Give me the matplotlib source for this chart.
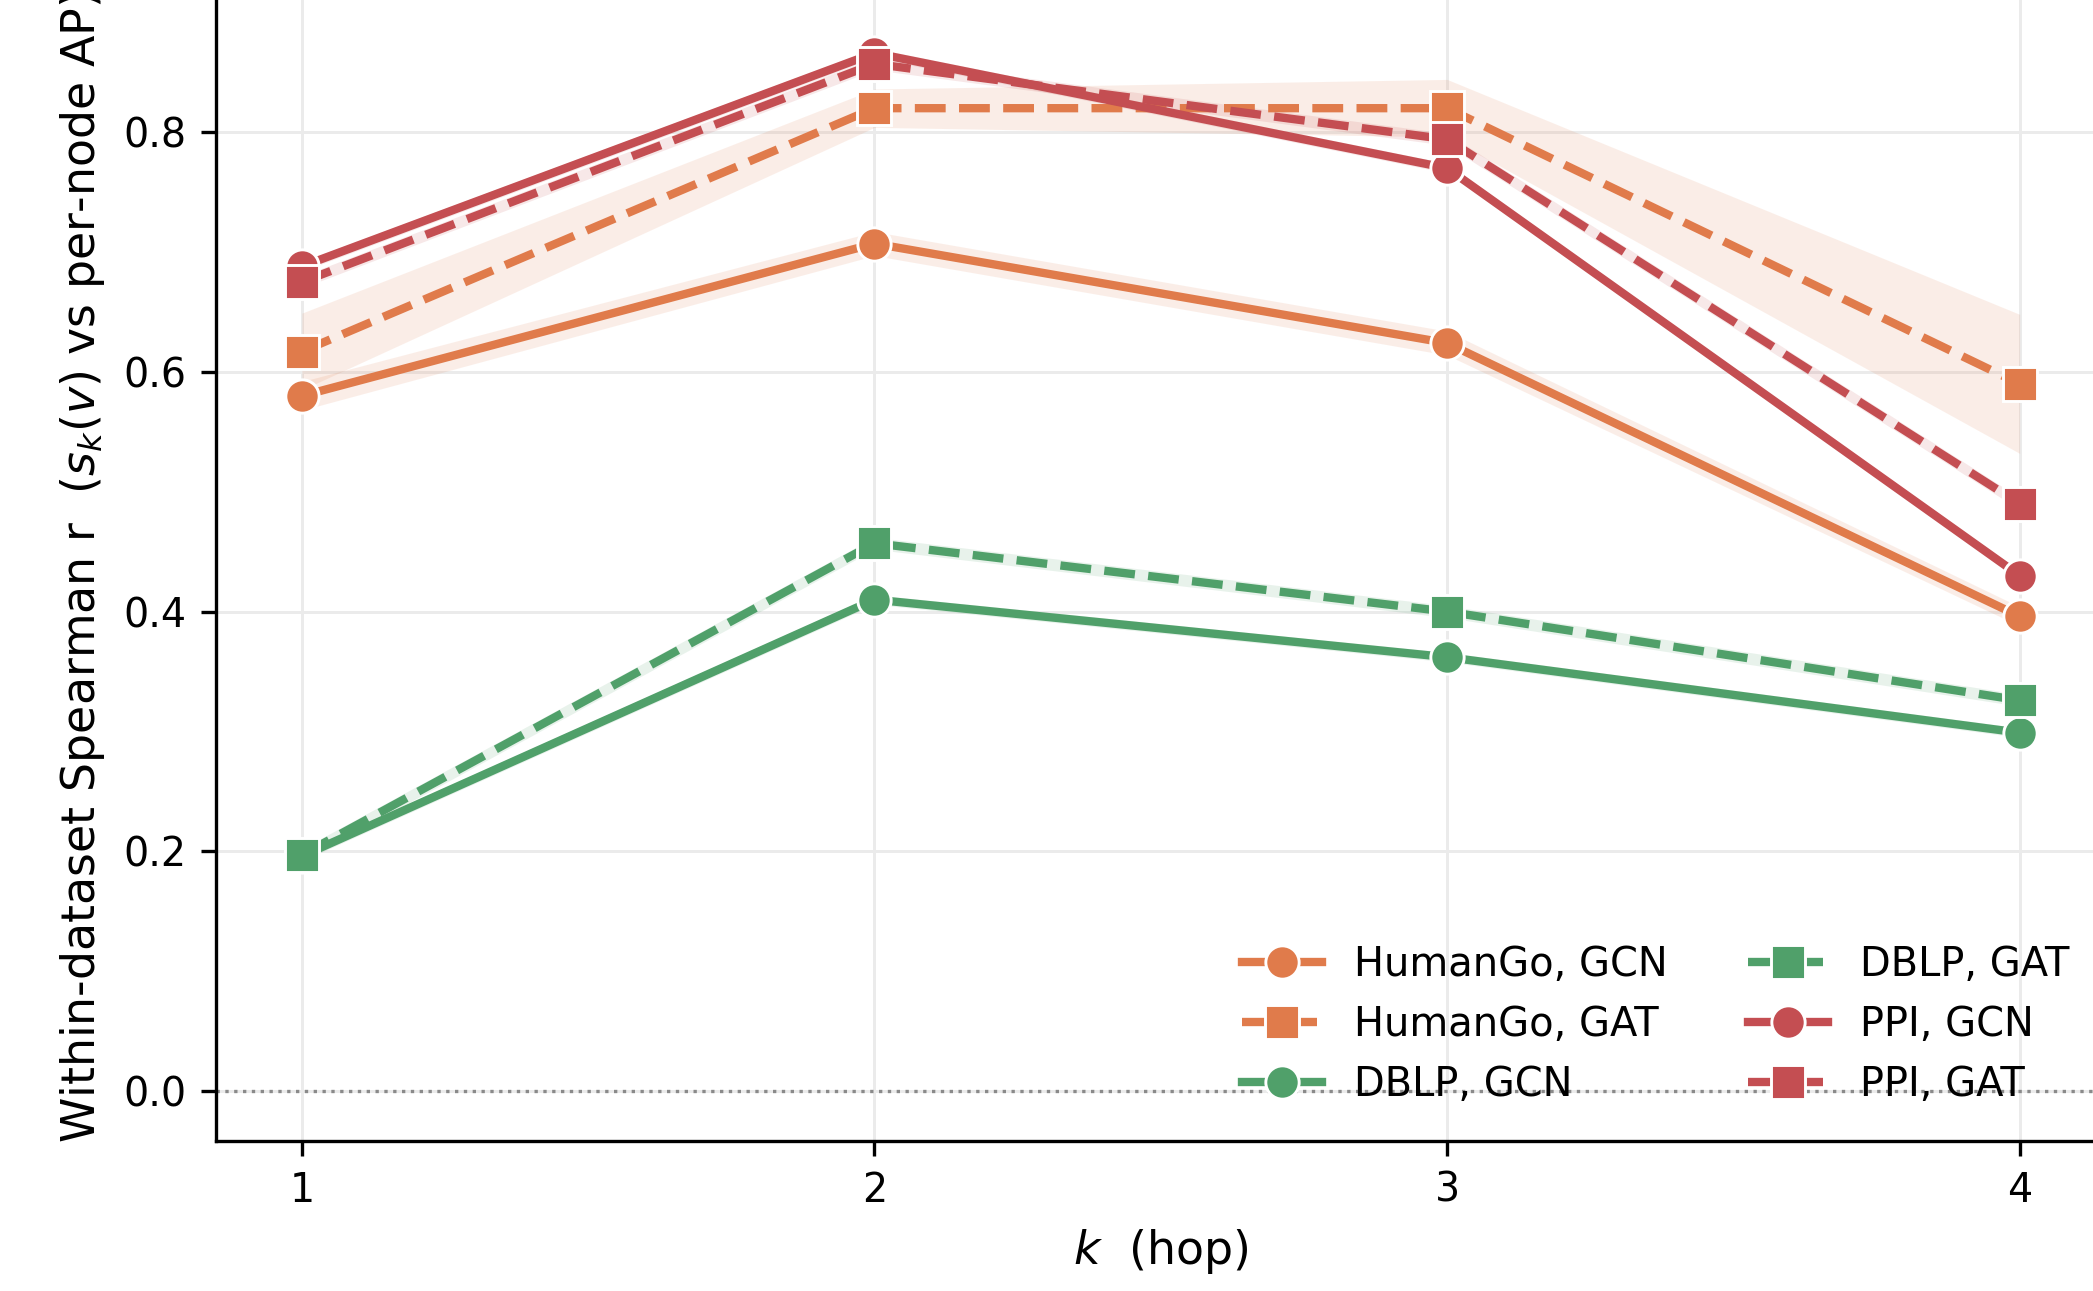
import matplotlib
matplotlib.use("Agg")
import matplotlib.pyplot as plt
import numpy as np

# hops
k = [1, 2, 3, 4]

# mean within-dataset Spearman r per (dataset, model)
humango_gcn = [0.580, 0.707, 0.624, 0.396]
humango_gat = [0.617, 0.820, 0.820, 0.590]
dblp_gcn = [0.196, 0.410, 0.362, 0.299]
dblp_gat = [0.197, 0.457, 0.400, 0.326]
ppi_gcn = [0.688, 0.866, 0.770, 0.430]
ppi_gat = [0.675, 0.857, 0.794, 0.490]

# spread across seeds (shaded band)
humango_gcn_sd = [0.012, 0.010, 0.010, 0.008]
humango_gat_sd = [0.032, 0.016, 0.024, 0.058]
dblp_gcn_sd = [0.004, 0.004, 0.004, 0.004]
dblp_gat_sd = [0.005, 0.005, 0.005, 0.005]
ppi_gcn_sd = [0.004, 0.004, 0.004, 0.004]
ppi_gat_sd = [0.005, 0.005, 0.005, 0.005]

labels = ["HumanGo, GCN", "HumanGo, GAT", "DBLP, GCN", "DBLP, GAT", "PPI, GCN", "PPI, GAT"]
means = [humango_gcn, humango_gat, dblp_gcn, dblp_gat, ppi_gcn, ppi_gat]
sds = [humango_gcn_sd, humango_gat_sd, dblp_gcn_sd, dblp_gat_sd, ppi_gcn_sd, ppi_gat_sd]

orange, green, red = "#E07B4B", "#50A06A", "#C44E52"
colors = [orange, orange, green, green, red, red]
styles = ["-", "--"] * 3
markers = ["o", "s"] * 3

fig = plt.figure(figsize=(2093 / 300, 1291 / 300), dpi=300)
ax = fig.add_axes([0.1032, 0.1159, 0.9028, 0.8885])

ax.axhline(0, color="gray", lw=0.8, ls=":", alpha=0.9, zorder=1)

for lab, m, s, c, ls, mk in zip(labels, means, sds, colors, styles, markers):
    m = np.array(m)
    s = np.array(s)
    ax.fill_between(k, m - s, m + s, color=c, alpha=0.13, lw=0, zorder=2)
    ax.plot(k, m, ls=ls, color=c, lw=2, marker=mk, ms=8,
            mec="white", mew=0.7, label=lab, zorder=3)

ax.set_xlim(0.85, 4.15)
ax.set_ylim(-0.042, 0.915)
ax.set_xticks(k)
ax.set_yticks([0.0, 0.2, 0.4, 0.6, 0.8])
ax.tick_params(labelsize=9.5)
ax.grid(True, color="#ebebeb", lw=0.7, zorder=0)
ax.set_axisbelow(True)
for sp in ["top", "right"]:
    ax.spines[sp].set_visible(False)

ax.set_xlabel(r"$k$  (hop)", fontsize=11)
ax.set_ylabel(r"Within-dataset Spearman r  ($s_k(v)$ vs per-node AP)", fontsize=11)

ax.legend(loc="lower right", ncol=2, frameon=False, fontsize=9.6, handlelength=2.0)

fig.savefig("out.png", dpi=300)
